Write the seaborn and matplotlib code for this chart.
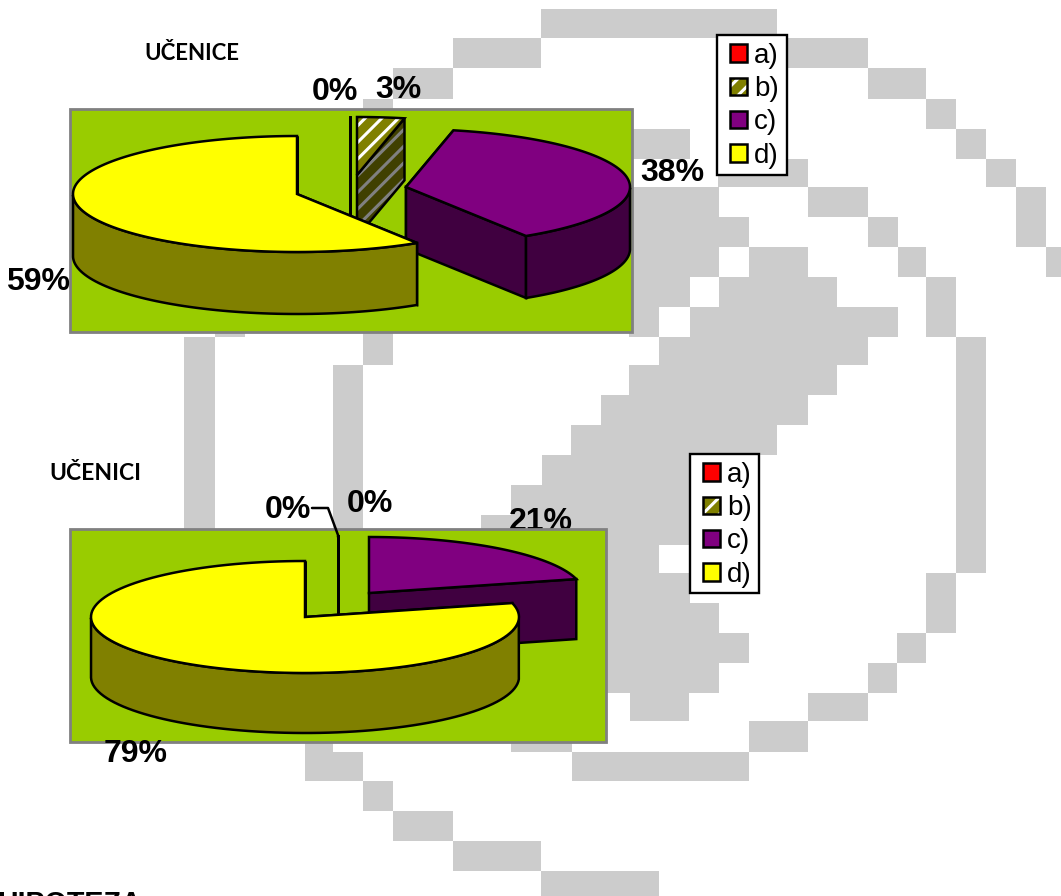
import numpy as np
import seaborn as sns
import matplotlib.pyplot as plt
from matplotlib.patches import Patch, Rectangle
from matplotlib.legend_handler import HandlerTuple

# values of the two pies (a, b, c, d)
odgovori = ['a)', 'b)', 'c)', 'd)']
ucenice = [0, 3.4, 37.6, 59]
ucenici = [0, 0, 21, 79]

sns.set_theme(style='white', font='Liberation Sans')
plt.rcParams['hatch.linewidth'] = 2.2

boje = sns.color_palette(['#FF0000', '#808000', '#800080', '#FFFF00'])
boje_bok = sns.color_palette(['#800000', '#404000', '#400040', '#808000'])
SIVA = '#CCCCCC'
ZELENA = '#99CC00'

# grey watermark behind the charts: (x0, x1, y0, y1) in pixels
vodeni_znak = [
    (541, 777, 9, 38), (453, 541, 38, 68), (777, 868, 38, 68), (393, 453, 68, 99),
    (868, 926, 68, 99), (363, 393, 99, 110), (926, 956, 99, 129), (956, 986, 129, 159),
    (632, 690, 129, 159), (986, 1016, 159, 187), (718, 808, 159, 187),
    (1016, 1046, 187, 247), (808, 868, 187, 217), (632, 719, 187, 217),
    (868, 898, 217, 247), (632, 749, 217, 247), (1046, 1061, 247, 277),
    (898, 926, 247, 277), (632, 719, 247, 277), (749, 808, 247, 277),
    (926, 956, 277, 337), (632, 690, 277, 307), (719, 837, 277, 307),
    (629, 659, 307, 337), (690, 898, 307, 337), (215, 245, 330, 337), (363, 393, 330, 365),
    (956, 986, 337, 573), (659, 868, 337, 365), (184, 215, 337, 530), (333, 363, 365, 530),
    (629, 837, 365, 395), (601, 808, 395, 425), (571, 777, 425, 455),
    (542, 749, 455, 485), (511, 719, 485, 515), (481, 719, 515, 545), (600, 659, 545, 573),
    (600, 690, 573, 603), (600, 719, 603, 633), (600, 749, 633, 663), (600, 719, 663, 693),
    (630, 689, 693, 721), (926, 956, 573, 633), (897, 926, 633, 663), (868, 897, 663, 693),
    (808, 868, 693, 721), (749, 808, 721, 752), (305, 333, 740, 752), (511, 572, 740, 752),
    (305, 363, 752, 781), (572, 749, 752, 781), (363, 393, 781, 811), (393, 453, 811, 841),
    (453, 541, 841, 871), (541, 659, 871, 896),
]

LW = 1.8


def crtaj_pitu(ax, vrijednosti, centri, rx, ry, dubina):
    kut = 0
    for i, v in enumerate(vrijednosti):
        pocetak, kraj = kut, kut + v * 3.6
        kut = kraj
        cx, cy = centri[i]
        t = np.radians(np.linspace(pocetak, kraj, 120))
        x = cx + rx * np.sin(t)
        y = cy - ry * np.cos(t)

        # radial cuts, then the visible part of the rim, then the top
        stranice = []
        for xr, yr in [(x[0], y[0]), (x[-1], y[-1])]:
            stranice.append(([cx, xr, xr, cx], [cy, yr, yr + dubina, cy + dubina]))
        vidljivo = (np.degrees(t) >= 90) & (np.degrees(t) <= 270)
        if vidljivo.any():
            xv, yv = x[vidljivo], y[vidljivo]
            stranice.append((np.r_[xv, xv[::-1]], np.r_[yv, yv[::-1] + dubina]))
        gornja = (np.r_[cx, x], np.r_[cy, y])

        prugasta = odgovori[i] == 'b)'
        for xs, ys in stranice:
            if prugasta:
                ax.fill(xs, ys, facecolor=boje_bok[i], edgecolor='#808080', hatch='//', lw=0, zorder=3)
                ax.fill(xs, ys, fill=False, edgecolor='black', lw=LW, zorder=3)
            else:
                ax.fill(xs, ys, facecolor=boje_bok[i], edgecolor='black', lw=LW, zorder=3)
        if prugasta:
            ax.fill(*gornja, facecolor=boje[i], edgecolor='white', hatch='//', lw=0, zorder=3)
            ax.fill(*gornja, fill=False, edgecolor='black', lw=LW, zorder=3)
        else:
            ax.fill(*gornja, facecolor=boje[i], edgecolor='black', lw=LW, zorder=3)


fig = plt.figure(figsize=(10.61, 8.96), dpi=100)
ax = fig.add_axes([0, 0, 1, 1])
ax.set_xlim(0, 1061)
ax.set_ylim(896, 0)
ax.axis('off')

for x0, x1, y0, y1 in vodeni_znak:
    ax.add_patch(Rectangle((x0, y0), x1 - x0, y1 - y0, facecolor=SIVA, edgecolor='none', zorder=0))

# chart areas
ax.add_patch(Rectangle((70, 109), 562, 223, facecolor=ZELENA, edgecolor='#808080', lw=2, zorder=2))
ax.add_patch(Rectangle((70, 529), 536, 213, facecolor=ZELENA, edgecolor='#808080', lw=2, zorder=2))

crtaj_pitu(ax, ucenice, [(350, 174), (357, 175), (406, 187), (297, 194)], 224, 58, 62)
crtaj_pitu(ax, ucenici, [(338, 591), (338, 591), (369, 593), (305, 617)], 214, 56, 60)

# leader line for the 0% label
ax.plot([312, 328, 338, 338], [508, 508, 535, 537], color='black', lw=LW, zorder=3)

# data labels
oznake_gore = [(335, 92), (398, 90), (672, 173), (38, 282)]
oznake_dolje = [(288, 510), (370, 504), (541, 522), (136, 754)]
for v, (x, y) in zip(ucenice, oznake_gore):
    ax.text(x, y, f'{v:.0f}%', fontsize=23, fontweight='bold', color='black',
            ha='center', va='center', zorder=4)
for v, (x, y) in zip(ucenici, oznake_dolje):
    # 21% sits partly behind the chart area
    ax.text(x, y, f'{v:.0f}%', fontsize=23, fontweight='bold', color='black',
            ha='center', va='center', zorder=1 if v == 21 else 4)

ax.text(192, 54, 'UČENICE', family='Lato', fontweight='bold', fontsize=16, color='black',
        ha='center', va='center', zorder=4)
ax.text(95, 474, 'UČENICI', family='Lato', fontweight='bold', fontsize=16.5, color='black',
        ha='center', va='center', zorder=4)
ax.text(-3, 912, 'HIPOTEZA', fontweight='bold', fontsize=20.6, color='black',
        ha='left', va='baseline', zorder=4)


def legenda(ax, okvir, sidro):
    # frame is a plain rectangle so its size can follow the picture
    ax.add_patch(Rectangle(okvir[:2], okvir[2], okvir[3], facecolor='white', edgecolor='black',
                           lw=1.7, zorder=4.5))
    rucke = []
    for i, naziv in enumerate(odgovori):
        if naziv == 'b)':
            rucke.append((Patch(facecolor=boje[i], edgecolor='white', hatch='//', lw=0),
                           Patch(fill=False, edgecolor='black', lw=LW)))
        else:
            rucke.append(Patch(facecolor=boje[i], edgecolor='black', lw=LW))
    return ax.legend(rucke, odgovori, loc='upper left', bbox_to_anchor=sidro,
                     bbox_transform=ax.transData, borderaxespad=0, fontsize=20,
                     frameon=False, handlelength=0.6, handleheight=0.6,
                     handletextpad=0.26, labelspacing=0.26, borderpad=0,
                     labelcolor='black', handler_map={tuple: HandlerTuple(ndivide=1, pad=0)})


ax.add_artist(legenda(ax, (717, 35, 70, 140), (730, 43)))
legenda(ax, (690, 454, 69, 139), (703, 462))

sns.despine(ax=ax, left=True, bottom=True)
fig.savefig('out.png', dpi=100)
